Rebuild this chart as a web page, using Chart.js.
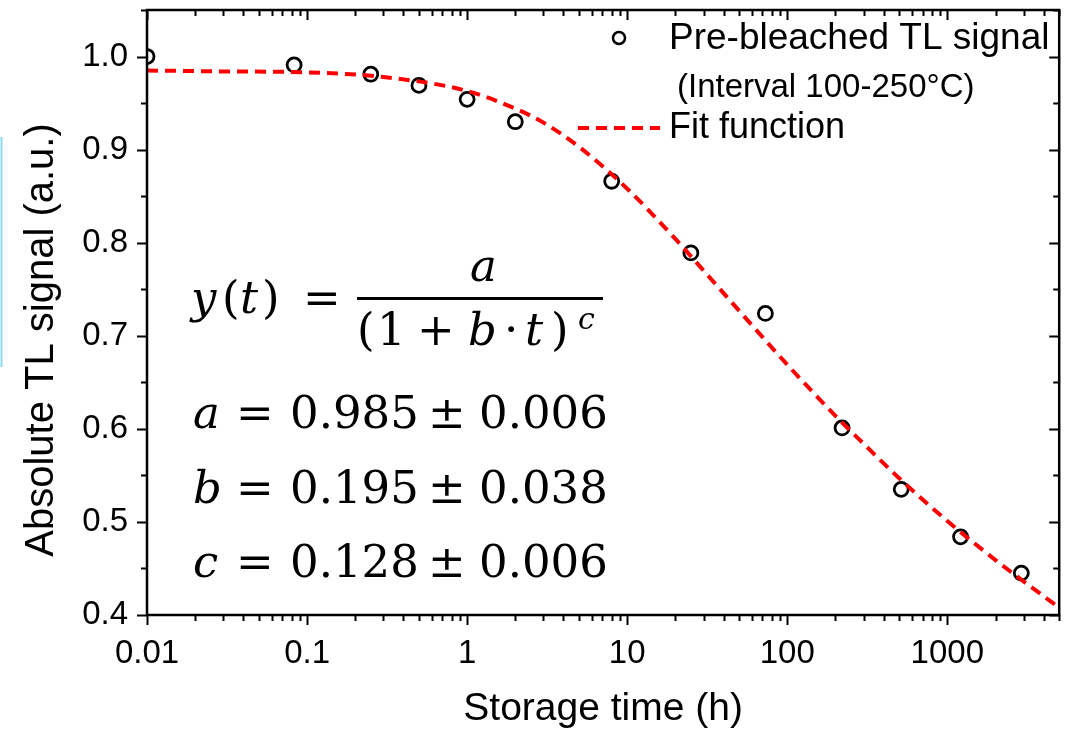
<!DOCTYPE html>
<html>
<head>
<meta charset="utf-8">
<script src="https://cdn.jsdelivr.net/npm/chart.js@4/dist/chart.umd.min.js"></script>
<style>
  html, body { margin: 0; background: #fff; }
  #wrap { width: 1069px; height: 733px; position: relative; }
</style>
</head>
<body>
<div id="wrap"><canvas id="c" width="1069" height="733"></canvas></div>
<script>
// measured TL signal (storage time in h)
const timeH   = [0.01, 0.083, 0.25, 0.5, 1, 2, 8, 25, 73, 220, 515, 1210, 2900];
const signal  = [1.000, 0.991, 0.981, 0.969, 0.954, 0.930, 0.866, 0.789, 0.724, 0.601, 0.535, 0.484, 0.445];

// fit curve
const fitT = [0.01, 0.03, 0.1, 0.3, 1, 2, 3, 5, 10, 20, 30, 50, 100, 200, 300, 500, 1000, 2000, 3000, 5000];
const fitY = [0.985, 0.984, 0.983, 0.978, 0.963, 0.944, 0.929, 0.903, 0.858, 0.804, 0.770, 0.727, 0.669, 0.614, 0.584, 0.547, 0.501, 0.459, 0.436, 0.408];

const xMajor = [0.01, 0.1, 1, 10, 100, 1000];
const yMajor = [0.4, 0.5, 0.6, 0.7, 0.8, 0.9, 1.0];
const yMinor = [0.45, 0.55, 0.65, 0.75, 0.85, 0.95, 1.05];

const FONT = '"Liberation Sans", Arial, sans-serif';
const MATH = '"DejaVu Serif", serif';

// minor log ticks 2..9 per decade, up to the axis max
const xMinor = [];
xMajor.forEach(d => { for (let k = 2; k <= 9; k++) if (d * k <= 5000) xMinor.push(d * k); });

// frame + ticks on all four sides, y title, legend, and the fit formula
const decor = {
  id: 'decor',
  afterDraw(chart) {
    const { ctx, chartArea: a, scales: { x, y } } = chart;
    ctx.save();
    ctx.strokeStyle = '#000'; ctx.lineWidth = 2;
    const tick = (x1, y1, x2, y2) => { ctx.beginPath(); ctx.moveTo(x1, y1); ctx.lineTo(x2, y2); ctx.stroke(); };
    xMajor.concat(xMinor).forEach(v => {
      const px = Math.round(x.getPixelForValue(v)) + 0.5, L = xMajor.includes(v) ? 10 : 6;
      tick(px, a.bottom, px, a.bottom + L);   // out
      tick(px, a.top, px, a.top + L);         // in
    });
    yMajor.concat(yMinor).forEach(v => {
      const py = Math.round(y.getPixelForValue(v)) + 0.5, L = yMajor.includes(v) ? 10 : 6;
      tick(a.left, py, a.left - L, py);
      tick(a.right, py, a.right - L, py);
    });
    ctx.lineWidth = 2.5;
    ctx.strokeRect(a.left, a.top, a.right - a.left, a.bottom - a.top);

    // y title (sits a bit below the plot centre in the original)
    ctx.fillStyle = '#000';
    ctx.save();
    ctx.translate(42, 340); ctx.rotate(-Math.PI / 2);
    ctx.textAlign = 'center'; ctx.textBaseline = 'middle';
    ctx.font = '40px ' + FONT; ctx.fillText('Absolute TL signal (a.u.)', 0, 0);
    ctx.restore();

    // legend
    ctx.lineWidth = 2.5;
    ctx.beginPath(); ctx.arc(619, 38, 6, 0, Math.PI * 2); ctx.stroke();
    ctx.strokeStyle = '#ff0000'; ctx.lineWidth = 4; ctx.setLineDash([11, 7]);
    tick(578, 128, 660, 128);
    ctx.setLineDash([]);
    ctx.textBaseline = 'alphabetic'; ctx.textAlign = 'left';
    ctx.font = '37px ' + FONT; ctx.fillText('Pre-bleached TL signal', 669, 49);
    ctx.font = '33px ' + FONT; ctx.fillText('(Interval 100-250°C)', 677, 97);
    ctx.font = '36px ' + FONT; ctx.fillText('Fit function', 669, 138);

    // formula
    const put = (t, px, py, size, it) => { ctx.font = (it ? 'italic ' : '') + size + 'px ' + MATH; ctx.fillText(t, px, py); };
    put('y', 191, 313, 45, true); put('(', 222, 313, 45); put('t', 240, 313, 45, true);
    put(')', 262, 313, 45); put('=', 303, 313, 45);
    put('a', 470, 281, 45, true);
    ctx.fillRect(357, 297, 246, 3);
    put('(', 357, 345, 45); put('1', 377, 345, 45); put('+', 417, 345, 45);
    put('b', 468, 345, 45, true); put('·', 504, 345, 45); put('t', 525, 345, 45, true);
    put(')', 551, 345, 45); put('c', 578, 329, 30, true);
    [['a', '0.985', '0.006', 428], ['b', '0.195', '0.038', 503], ['c', '0.128', '0.006', 577]].forEach(([v, n, e, by]) => {
      put(v, 193, by, 45, true); put('=', 236, by, 45); put(n, 290, by, 45);
      put('±', 428, by, 45); put(e, 479, by, 45);
    });

    // cropping artefact at the left edge
    ctx.strokeStyle = '#8fd9f9'; ctx.lineWidth = 2;
    tick(1.5, 137, 1.5, 367);
    ctx.restore();
  }
};

new Chart(document.getElementById('c'), {
  type: 'scatter',
  data: {
    datasets: [
      {
        label: 'Fit function',
        data: fitT.map((t, i) => ({ x: t, y: fitY[i] })),
        showLine: true, pointRadius: 0, borderColor: '#ff0000', borderWidth: 4,
        borderDash: [11, 7], cubicInterpolationMode: 'monotone', order: 0
      },
      {
        label: 'Pre-bleached TL signal',
        data: timeH.map((t, i) => ({ x: t, y: signal[i] })),
        pointRadius: 7, borderWidth: 2.8, borderColor: '#000',
        backgroundColor: 'rgba(0,0,0,0)', order: 1, clip: 0
      }
    ]
  },
  options: {
    responsive: false, animation: false, devicePixelRatio: 1,
    layout: { padding: { top: 10, right: 7, left: 0, bottom: 0 } },
    plugins: { legend: { display: false }, tooltip: { enabled: false } },
    scales: {
      x: {
        type: 'logarithmic', min: 0.01, max: 5000,
        afterBuildTicks: s => { s.ticks = xMajor.map(v => ({ value: v })); },
        afterFit: s => { s.height = 118; s.paddingLeft = 0; s.paddingRight = 0; },
        grid: { display: false, drawTicks: false }, border: { display: false },
        ticks: { color: '#000', font: { family: FONT, size: 33 }, padding: 19, autoSkip: false, maxRotation: 0,
                 callback: v => String(v) },
        title: { display: true, text: 'Storage time (h)', color: '#000', font: { family: FONT, size: 39 }, padding: { bottom: 0 } }
      },
      y: {
        min: 0.4, max: 1.05,
        afterBuildTicks: s => { s.ticks = yMajor.map(v => ({ value: v })); },
        afterFit: s => { s.width = 147; s.paddingTop = 0; s.paddingBottom = 0; },
        grid: { display: false, drawTicks: false }, border: { display: false },
        ticks: { color: '#000', font: { family: FONT, size: 33 }, padding: 19, callback: v => v.toFixed(1) },
        title: { display: false }
      }
    }
  },
  plugins: [decor]
});
</script>
</body>
</html>
